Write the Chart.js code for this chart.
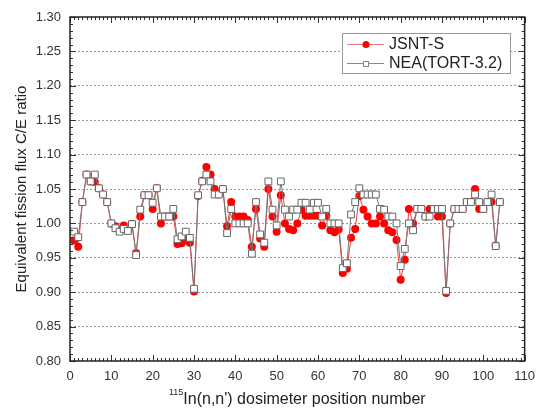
<!DOCTYPE html>
<html>
<head>
<meta charset="utf-8">
<script src="https://cdn.jsdelivr.net/npm/chart.js@4.4.0/dist/chart.umd.min.js"></script>
<style>
    html, body { margin: 0; padding: 0; background: #fff; }
    #chartBox { width: 543px; height: 412px; }
</style>
</head>
<body>
<div id="chartBox"><canvas id="ceChart" width="543" height="412"></canvas></div>
<script>
// Dosimeter position numbers
const positions = [
    1, 2, 3, 4, 5, 6, 7, 8, 9, 10, 11, 12, 13, 14, 15, 16, 17, 18, 19, 20,
    21, 22, 23, 24, 25, 26, 27, 28, 29, 30, 31, 32, 33, 34, 35, 36, 37, 38, 39, 40,
    41, 42, 43, 44, 45, 46, 47, 48, 49, 50, 51, 52, 53, 54, 55, 56, 57, 58, 59, 60,
    61, 62, 63, 64, 65, 66, 67, 68, 69, 70, 71, 72, 73, 74, 75, 76, 77, 78, 79, 80,
    81, 82, 83, 84, 85, 86, 87, 88, 89, 90, 91, 92, 93, 94, 95, 96, 97, 98, 99, 100,
    101, 102, 103, 104
];

// C/E ratios, JSNT-S
const jsntValues = [
    0.975, 0.966, 1.031, 1.071, 1.061, 1.060, 1.051, 1.042, 1.031, 1.000,
    0.996, 0.990, 0.997, 0.990, 0.999, 0.957, 1.010, 1.041, 1.041, 1.021,
    1.051, 1.000, 1.010, 1.010, 1.010, 0.970, 0.971, 0.976, 0.972, 0.901,
    1.040, 1.062, 1.082, 1.071, 1.050, 1.042, 1.050, 0.996, 1.031, 1.010,
    1.010, 1.010, 1.005, 0.966, 1.021, 0.978, 0.966, 1.050, 1.010, 0.988,
    1.041, 1.000, 0.992, 0.990, 1.000, 1.020, 1.011, 1.011, 1.011, 1.011,
    0.997, 1.011, 0.990, 0.987, 0.991, 0.928, 0.934, 0.979, 0.992, 1.040,
    1.020, 1.010, 1.000, 1.000, 1.010, 1.000, 0.990, 0.987, 0.976, 0.918,
    0.947, 1.021, 1.000, 1.021, 1.021, 1.010, 1.021, 1.021, 1.010, 1.010,
    0.899, 1.000, 1.021, 1.021, 1.021, 1.031, 1.031, 1.050, 1.021, 1.021,
    1.031, 1.031, 0.968, 1.031
];

// C/E ratios, NEA(TORT-3.2)
const neaValues = [
    0.988, 0.980, 1.031, 1.071, 1.061, 1.071, 1.051, 1.042, 1.031, 1.000,
    0.993, 0.988, 0.992, 0.989, 0.999, 0.954, 1.020, 1.041, 1.041, 1.030,
    1.051, 1.010, 1.010, 1.010, 1.021, 0.977, 0.981, 0.988, 0.979, 0.905,
    1.041, 1.061, 1.071, 1.061, 1.042, 1.042, 1.050, 0.986, 1.021, 1.000,
    1.000, 1.000, 1.000, 0.956, 1.031, 0.984, 0.972, 1.061, 1.020, 0.997,
    1.061, 1.020, 1.010, 1.020, 1.020, 1.030, 1.030, 1.020, 1.030, 1.030,
    1.010, 1.021, 1.000, 1.000, 1.000, 0.935, 0.942, 1.013, 1.031, 1.051,
    1.042, 1.042, 1.042, 1.042, 1.021, 1.020, 1.010, 1.010, 1.000, 0.938,
    0.963, 1.000, 0.990, 1.021, 1.021, 1.010, 1.010, 1.021, 1.021, 1.021,
    0.902, 1.000, 1.021, 1.021, 1.021, 1.031, 1.031, 1.042, 1.031, 1.021,
    1.031, 1.042, 0.967, 1.031
];

// Axis ranges and labels
const xRange = [0, 110];
const yRange = [0.80, 1.30];
const seriesNames = ['JSNT-S', 'NEA(TORT-3.2)'];

const FONT = '"Liberation Sans", Arial, sans-serif';

// Frame, minor ticks, legend and x title
const framePlugin = {
    id: 'frame',
    afterDraw(chart) {
        const ctx = chart.ctx;
        const area = chart.chartArea;
        const xs = chart.scales.x;
        const ys = chart.scales.y;
        ctx.save();

        // ticks on all four sides, pointing inward
        ctx.strokeStyle = '#333';
        ctx.lineWidth = 1;
        ctx.beginPath();
        for (let v = xRange[0]; v <= xRange[1]; v += 1) {
            const px = Math.round(xs.getPixelForValue(v)) + 0.5;
            const len = v % 10 === 0 ? 6 : 3;
            ctx.moveTo(px, area.bottom); ctx.lineTo(px, area.bottom - len);
            ctx.moveTo(px, area.top); ctx.lineTo(px, area.top + len);
        }
        for (let k = 0; k <= 50; k++) {
            const v = yRange[0] + k * 0.01;
            const py = Math.round(ys.getPixelForValue(v)) + 0.5;
            const len = k % 5 === 0 ? 6 : 3;
            ctx.moveTo(area.left, py); ctx.lineTo(area.left + len, py);
            ctx.moveTo(area.right, py); ctx.lineTo(area.right - len, py);
        }
        ctx.stroke();

        // plot border
        ctx.strokeStyle = '#222';
        ctx.lineWidth = 1.5;
        ctx.strokeRect(area.left, area.top, area.right - area.left, area.bottom - area.top);

        // legend box
        const lx = 342, ly = 33, lw = 168, lh = 40;
        ctx.fillStyle = '#fff';
        ctx.fillRect(lx, ly, lw, lh);
        ctx.strokeStyle = '#999';
        ctx.lineWidth = 1;
        ctx.strokeRect(lx + 0.5, ly + 0.5, lw, lh);

        ctx.font = '16px ' + FONT;
        ctx.textBaseline = 'middle';
        ctx.textAlign = 'left';

        // JSNT-S entry
        ctx.strokeStyle = '#f07878';
        ctx.beginPath();
        ctx.moveTo(347, 44.5); ctx.lineTo(384, 44.5);
        ctx.stroke();
        ctx.fillStyle = '#ff0000';
        ctx.beginPath();
        ctx.arc(366, 44.5, 3.5, 0, Math.PI * 2);
        ctx.fill();
        ctx.fillStyle = '#222';
        ctx.fillText(seriesNames[0], 389, 45);

        // NEA entry
        ctx.strokeStyle = '#888';
        ctx.beginPath();
        ctx.moveTo(347, 63.5); ctx.lineTo(384, 63.5);
        ctx.stroke();
        ctx.fillStyle = '#fff';
        ctx.fillRect(363, 61, 5, 5);
        ctx.strokeRect(363.5, 61.5, 5, 5);
        ctx.fillStyle = '#222';
        ctx.fillText(seriesNames[1], 389, 64);

        // x axis title with superscript mass number
        const main = 'In(n,n\') dosimeter position number';
        ctx.font = '16px ' + FONT;
        const mainW = ctx.measureText(main).width;
        ctx.font = '9px ' + FONT;
        const supW = ctx.measureText('115').width;
        const startX = (area.left + area.right) / 2 - (mainW + supW) / 2;
        ctx.textBaseline = 'alphabetic';
        ctx.fillText('115', startX, 395);
        ctx.font = '16px ' + FONT;
        ctx.fillText(main, startX + supW, 404);

        // y axis title
        ctx.translate(22, (area.top + area.bottom) / 2);
        ctx.rotate(-Math.PI / 2);
        ctx.textAlign = 'center';
        ctx.textBaseline = 'middle';
        ctx.font = '15px ' + FONT;
        ctx.fillText('Equivalent fission flux C/E ratio', 0, 0);

        ctx.restore();
    }
};

let chart = null;

// Initialize chart
function initializeChart() {
    const ctx = document.getElementById('ceChart').getContext('2d');
    chart = new Chart(ctx, {
        type: 'line',
        data: {
            datasets: [{
                label: seriesNames[1],
                data: positions.map((p, i) => ({ x: p, y: neaValues[i] })),
                borderColor: '#777',
                borderWidth: 1,
                pointStyle: 'rect',
                pointRadius: 4.8,
                pointBackgroundColor: '#fff',
                pointBorderColor: '#666',
                pointBorderWidth: 1,
                tension: 0,
                order: 0
            }, {
                label: seriesNames[0],
                data: positions.map((p, i) => ({ x: p, y: jsntValues[i] })),
                borderColor: '#ec4040',
                borderWidth: 1,
                pointStyle: 'circle',
                pointRadius: 4,
                pointBackgroundColor: '#ff0000',
                pointBorderColor: '#ff0000',
                pointBorderWidth: 0,
                tension: 0,
                order: 1
            }]
        },
        options: {
            responsive: false,
            animation: false,
            layout: { padding: { top: 17, right: 13, left: 0, bottom: 0 } },
            plugins: {
                legend: { display: false },
                tooltip: { enabled: false }
            },
            scales: {
                x: {
                    type: 'linear',
                    min: xRange[0],
                    max: xRange[1],
                    afterFit: (scale) => { scale.height = 51; },
                    grid: { display: false, drawTicks: false },
                    border: { display: false },
                    ticks: {
                        stepSize: 10,
                        padding: 8,
                        color: '#333',
                        font: { family: FONT, size: 13 },
                        maxRotation: 0
                    }
                },
                y: {
                    min: yRange[0],
                    max: yRange[1],
                    afterFit: (scale) => { scale.width = 70; },
                    grid: {
                        color: (c) => (c.tick && (c.tick.value <= 0.801 || c.tick.value >= 1.299)) ? 'rgba(0,0,0,0)' : '#999',
                        lineWidth: 1,
                        drawTicks: false
                    },
                    border: { display: false, dash: [2, 2] },
                    ticks: {
                        stepSize: 0.05,
                        padding: 9,
                        color: '#333',
                        font: { family: FONT, size: 13 },
                        callback: (v) => v.toFixed(2)
                    }
                }
            }
        },
        plugins: [framePlugin]
    });
}

initializeChart();
</script>
</body>
</html>
